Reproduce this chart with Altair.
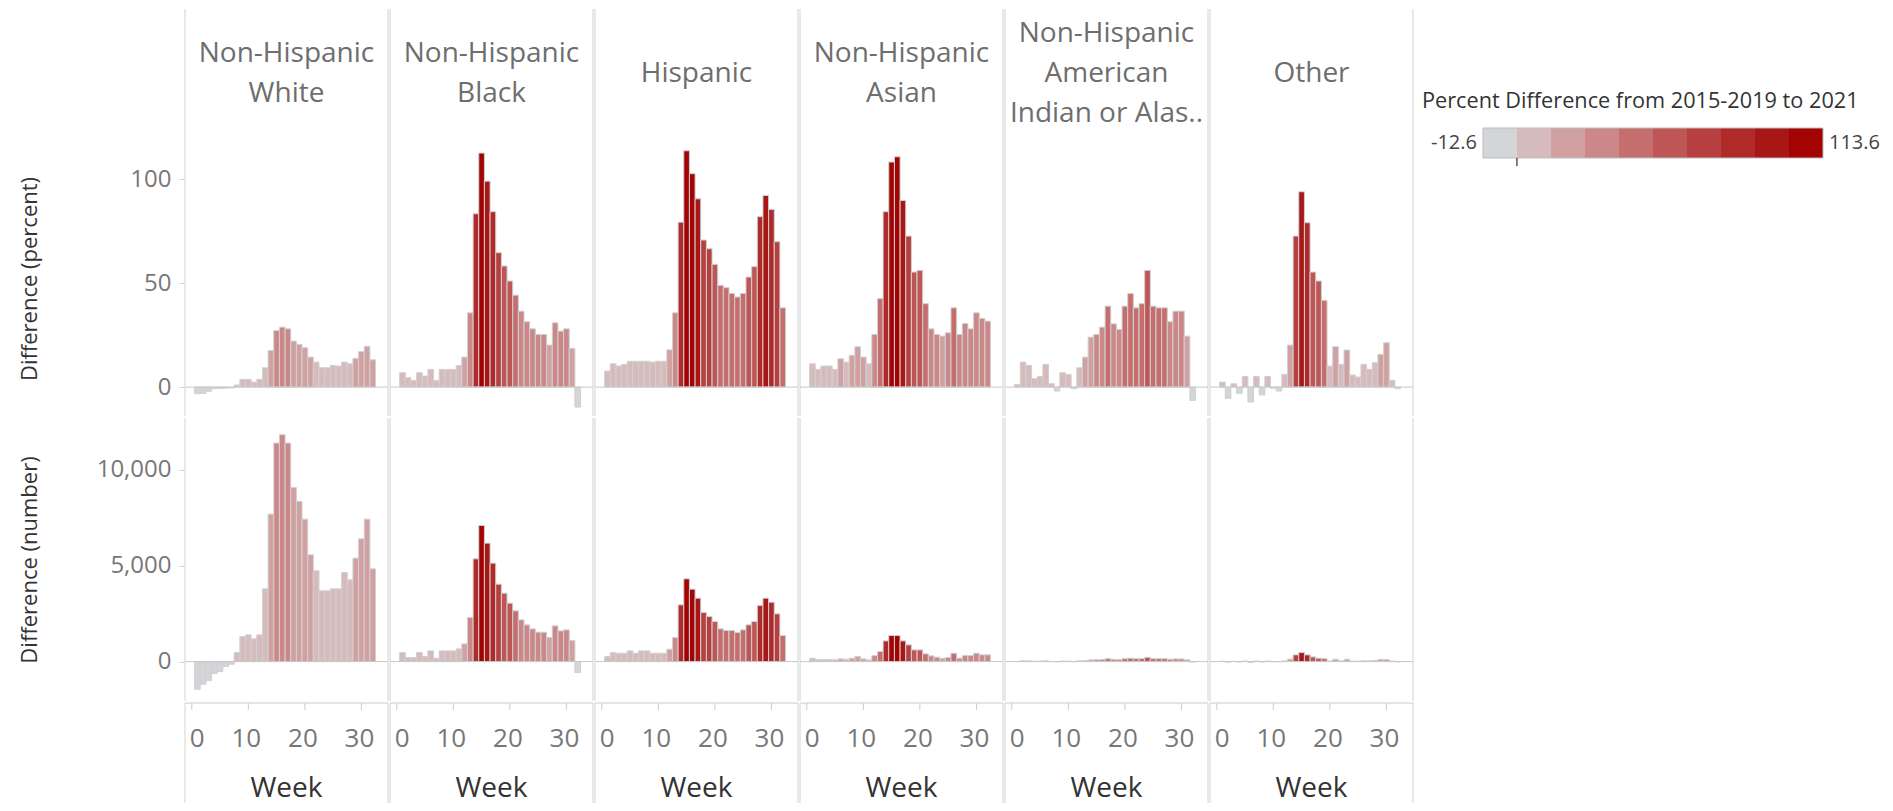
import altair as alt
import pandas as pd
import numpy as np

FONT = "Open Sans"

WEEKS = list(range(1, 33))
GROUPS = ["Non-Hispanic White", "Non-Hispanic Black", "Hispanic", "Non-Hispanic Asian",
          "Non-Hispanic American Indian or Alaska Native", "Other"]
HEADERS = ["Non-Hispanic|White", "Non-Hispanic|Black", "Hispanic", "Non-Hispanic|Asian",
           "Non-Hispanic|American|Indian or Alas..", "Other"]

# Difference (percent) by week
PCT_WHITE = [-3.2, -3.0, -2.0, -0.8, -0.6, -0.5, -0.4, 1.0, 3.7, 3.7, 2.4, 3.7, 9.3, 17.6, 27.2, 28.8,
             28.0, 22.1, 20.5, 18.9, 14.4, 12.0, 9.3, 9.3, 10.4, 10.1, 12.0, 11.2, 13.8, 17.0, 19.6, 13.1]
PCT_BLACK = [6.9, 4.5, 3.2, 6.9, 5.3, 8.5, 3.2, 8.5, 8.5, 8.5, 10.4, 14.4, 35.7, 83.3, 112.5, 99.0,
             84.3, 64.6, 58.2, 51.0, 44.2, 36.5, 31.4, 28.0, 25.3, 25.3, 20.2, 30.9, 26.9, 28.0, 18.6, -9.6]
PCT_HISP = [7.7, 11.2, 10.1, 10.9, 12.4, 12.4, 12.4, 12.4, 12.0, 12.4, 12.4, 17.9, 35.7, 79.3, 113.6, 102.6,
            90.5, 70.7, 66.5, 59.0, 48.9, 47.8, 45.0, 43.3, 45.0, 52.9, 57.9, 81.9, 92.1, 85.4, 69.9, 38.1]
PCT_ASIAN = [11.2, 8.5, 10.1, 10.1, 8.5, 13.6, 12.0, 15.2, 19.4, 14.4, 11.2, 25.3, 42.5, 84.3, 108.2, 110.7,
             89.7, 72.6, 55.3, 56.1, 40.1, 28.0, 25.3, 24.5, 26.1, 38.1, 25.3, 30.6, 28.0, 35.7, 33.0, 31.7]
PCT_AIAN = [1.3, 12.0, 10.4, 4.0, 5.1, 10.9, 1.6, -1.9, 6.9, 6.1, -0.8, 9.3, 14.4, 24.0, 25.3, 28.8,
            38.9, 30.4, 27.7, 38.9, 45.0, 38.1, 40.1, 56.1, 38.9, 38.1, 38.1, 31.4, 36.5, 36.5, 24.5, -6.4]
PCT_OTHER = [2.4, -5.4, 1.6, -3.0, 5.1, -7.2, 5.1, -3.8, 5.1, -0.6, -1.9, 6.1, 20.2, 72.6, 93.9, 79.0,
             55.3, 51.0, 41.7, 10.1, 19.4, 10.9, 17.8, 5.8, 4.8, 10.9, 8.5, 11.7, 15.7, 21.3, 3.2, -0.8]

# Difference (number) by week
NUM_WHITE = [-1443, -1183, -991, -620, -520, -261, -139, 470, 1304, 1391, 1183, 1391, 3791, 7686, 11390, 11825,
             11390, 9078, 8347, 7425, 5565, 4730, 3687, 3687, 3791, 3791, 4643, 4261, 5391, 6400, 7425, 4834]
NUM_BLACK = [470, 209, 209, 470, 261, 556, 174, 556, 556, 556, 661, 922, 2295, 5356, 7095, 6173,
             5130, 4035, 3565, 3043, 2643, 2174, 1913, 1704, 1530, 1530, 1252, 1861, 1600, 1652, 1096, -574]
NUM_HISP = [261, 470, 435, 435, 556, 435, 556, 556, 435, 435, 435, 643, 1252, 2956, 4313, 3774,
            3304, 2556, 2348, 2087, 1704, 1617, 1617, 1513, 1652, 1913, 2087, 2922, 3304, 3095, 2487, 1356]
NUM_ASIAN = [174, 90, 100, 100, 90, 139, 122, 174, 261, 139, 87, 313, 522, 1078, 1356, 1356,
             1078, 870, 609, 609, 400, 296, 226, 174, 209, 435, 174, 313, 313, 435, 348, 348]
NUM_AIAN = [5, 40, 35, 15, 18, 38, 6, -7, 24, 21, -3, 33, 52, 88, 95, 108,
            150, 118, 105, 150, 175, 150, 158, 220, 155, 150, 148, 122, 140, 138, 92, -25]
NUM_OTHER = [15, -30, 10, -20, 30, -45, 30, -25, 30, -5, -12, 35, 130, 348, 470, 348,
             243, 174, 157, 30, 120, 35, 120, 20, 18, 40, 35, 60, 120, 110, 25, -8]

PCTS = [PCT_WHITE, PCT_BLACK, PCT_HISP, PCT_ASIAN, PCT_AIAN, PCT_OTHER]
NUMS = [NUM_WHITE, NUM_BLACK, NUM_HISP, NUM_ASIAN, NUM_AIAN, NUM_OTHER]

X_TICKS = [0, 10, 20, 30]
LEGEND_TITLE = "Percent Difference from 2015-2019 to 2021"
LEGEND_MIN, LEGEND_MAX = -12.6, 113.6
COLORS = ["#d3d5d9", "#d6bbbd", "#d1a1a2", "#cc8889", "#c66e6e",
          "#bf5656", "#b73f3f", "#b02a2a", "#a81616", "#a30303"]

ROW1_TITLE = "Difference (percent)"
ROW2_TITLE = "Difference (number)"
X_TITLE = "Week"

rows = []
for g, h, pcts, nums in zip(GROUPS, HEADERS, PCTS, NUMS):
    for w, p, n in zip(WEEKS, pcts, nums):
        rows.append({"group": g, "header": h, "week": w, "pct": p, "num": n})
df = pd.DataFrame(rows)
ticks_df = pd.DataFrame([{"group": g, "header": h, "tick": t}
                         for g, h in zip(GROUPS, HEADERS) for t in X_TICKS])

edges = np.linspace(LEGEND_MIN, LEGEND_MAX, len(COLORS) + 1)
color_scale = alt.Scale(type="threshold", domain=[float(e) for e in edges[1:-1]], range=COLORS)

W = 203
H_HEAD = 132
H1 = 275
H2 = 283
H3 = 100
LINE = "#d2d2d2"
LABEL_GRAY = "#777777"
xscale = alt.Scale(domain=[-1.2, 34.7], nice=False, zero=False)
facet_col = alt.Column("header:N", sort=HEADERS, header=None)


def dividers(h_top, h_bottom, filt):
    out = []
    for xv in (0, W):
        out.append(alt.Chart().mark_rule(color=LINE, strokeWidth=1).encode(
            x=alt.value(xv), y=alt.value(h_top), y2=alt.value(h_bottom), detail="group:N"
        ).transform_filter(filt))
    return out


def bar_row(field, ydomain, height, yaxis, top_extent, extra):
    bars = alt.Chart().mark_bar(stroke="#d0d0d0", strokeWidth=1).encode(
        x=alt.X("x0:Q", scale=xscale, axis=None),
        x2="x1:Q",
        y=alt.Y(f"{field}:Q", scale=alt.Scale(domain=ydomain, nice=False, zero=False), axis=yaxis),
        y2="base:Q",
        color=alt.Color("pct:Q", scale=color_scale, legend=None),
    ).transform_calculate(x0="datum.week - 0.5", x1="datum.week + 0.5", base="0")
    zero = alt.Chart().mark_rule(color="#c8c8c8", strokeWidth=1).encode(
        y=alt.datum(0), x=alt.value(0), x2=alt.value(W)
    ).transform_filter("datum.week == 1")
    layer = alt.layer(bars, zero, *dividers(top_extent, height, "datum.week == 1"), *extra,
                      data=df).properties(width=W, height=height)
    return layer.facet(column=facet_col, spacing=0)


def y_axis(values, title, height, fmt):
    return alt.Axis(values=values, format=fmt, title=title, grid=False, domain=False, tickSize=5,
                    tickColor=LINE, labelFontSize=24, labelColor=LABEL_GRAY, labelPadding=8,
                    titleFontSize=22, titleColor="#333333", titleFontWeight="normal",
                    titleX=-155, titleY=height / 2, titleBaseline="middle", titleAlign="center")


# column headers (multi-line, vertically centred on one line)
head_layers = []
for nlines, yv in ((1, -67), (2, -87), (3, -107)):
    head_layers.append(alt.Chart().mark_text(
        lineBreak="|", fontSize=28, color="#6e6e6e", baseline="middle", align="center", lineHeight=40
    ).encode(text="header:N", x=alt.value(W / 2), y=alt.value(yv)).transform_calculate(
        nl="length(split(datum.header, '|'))"
    ).transform_filter(f"datum.week == 1 && datum.nl == {nlines}"))

row1 = bar_row("pct", [-13.9, 118.3], H1, y_axis([0, 50, 100], ROW1_TITLE, H1, "d"), -H_HEAD, head_layers)
row2 = bar_row("num", [-2056, 12698], H2, y_axis([0, 5000, 10000], ROW2_TITLE, H2, ",d"), 0, [])

# x axis row (ticks, labels, title) drawn through the same x scale
baseline = alt.Chart().mark_rule(color="#cccccc", strokeWidth=1).encode(
    x=alt.value(0), x2=alt.value(W), y=alt.value(0), detail="group:N").transform_filter("datum.tick == 0")
tick_marks = alt.Chart().mark_rule(color="#cccccc", strokeWidth=1).encode(
    x=alt.X("tick:Q", scale=xscale, axis=None), y=alt.value(0), y2=alt.value(7))
tick_first = alt.Chart().mark_text(fontSize=26, color=LABEL_GRAY, baseline="middle", align="left",
                                   dx=-2).encode(
    x=alt.X("tick:Q", scale=xscale, axis=None), y=alt.value(36), text=alt.Text("tick:Q", format="d")
).transform_filter("datum.tick == 0")
tick_rest = alt.Chart().mark_text(fontSize=26, color=LABEL_GRAY, baseline="middle", align="center",
                                  dx=-2).encode(
    x=alt.X("tick:Q", scale=xscale, axis=None), y=alt.value(36), text=alt.Text("tick:Q", format="d")
).transform_filter("datum.tick > 0")
x_title = alt.Chart().mark_text(fontSize=28, color="#333333", baseline="middle", align="center").encode(
    x=alt.value(W / 2), y=alt.value(86), text=alt.value(X_TITLE), detail="group:N"
).transform_filter("datum.tick == 0")
axis_row = alt.layer(baseline, tick_marks, tick_first, tick_rest, x_title,
                     *dividers(0, H3, "datum.tick == 0"), data=ticks_df).properties(
    width=W, height=H3).facet(column=facet_col, spacing=0)

main = alt.vconcat(row1, row2, axis_row, spacing=0)

# legend (origin aligned with top of first row of panels)
LY = -H_HEAD
leg_df = pd.DataFrame({"lo": edges[:-1], "hi": edges[1:], "mid": (edges[:-1] + edges[1:]) / 2})
ends_df = pd.DataFrame({"lo": [LEGEND_MIN], "hi": [LEGEND_MAX]})
zero_df = pd.DataFrame({"z": [0.0]})
lbl_df = pd.DataFrame({"v": [LEGEND_MIN, LEGEND_MAX],
                       "s": [f"{LEGEND_MIN:.1f}", f"{LEGEND_MAX:.1f}"]})
title_df = pd.DataFrame({"t": [LEGEND_TITLE]})
lx = alt.Scale(domain=[LEGEND_MIN, LEGEND_MAX], nice=False, zero=False)

sw = alt.Chart(leg_df).mark_rect().encode(
    x=alt.X("lo:Q", scale=lx, axis=None), x2="hi:Q",
    y=alt.value(LY + 119), y2=alt.value(LY + 149),
    color=alt.Color("mid:Q", scale=color_scale, legend=None))
outline = alt.Chart(ends_df).mark_rect(fillOpacity=0, stroke="#bdbdbd", strokeWidth=1).encode(
    x=alt.X("lo:Q", scale=lx, axis=None), x2="hi:Q", y=alt.value(LY + 119), y2=alt.value(LY + 149))
zero_mark = alt.Chart(zero_df).mark_rule(color="#000000", strokeWidth=1).encode(
    x=alt.X("z:Q", scale=lx, axis=None), y=alt.value(LY + 149), y2=alt.value(LY + 157))
lab_min = alt.Chart(lbl_df).mark_text(align="right", baseline="middle", fontSize=20, dx=-6,
                                      color="#444444").encode(
    x=alt.X("v:Q", scale=lx, axis=None), y=alt.value(LY + 134), text="s:N"
).transform_filter("datum.v < 0")
lab_max = alt.Chart(lbl_df).mark_text(align="left", baseline="middle", fontSize=20, dx=6,
                                      color="#444444").encode(
    x=alt.X("v:Q", scale=lx, axis=None), y=alt.value(LY + 134), text="s:N"
).transform_filter("datum.v > 0")
leg_title = alt.Chart(title_df).mark_text(align="left", baseline="middle", fontSize=21.7,
                                          color="#333333").encode(
    text="t:N", x=alt.value(-61), y=alt.value(LY + 92))
legend = alt.layer(sw, outline, zero_mark, lab_min, lab_max, leg_title).properties(width=340, height=30)

chart = alt.hconcat(main, legend, spacing=8, center=False).properties(
    padding={"left": 9, "top": 0, "right": 0, "bottom": 0}
).configure(font=FONT).configure_view(stroke=None)

chart.save("out.html", embed_options={"renderer": "svg", "actions": False})
